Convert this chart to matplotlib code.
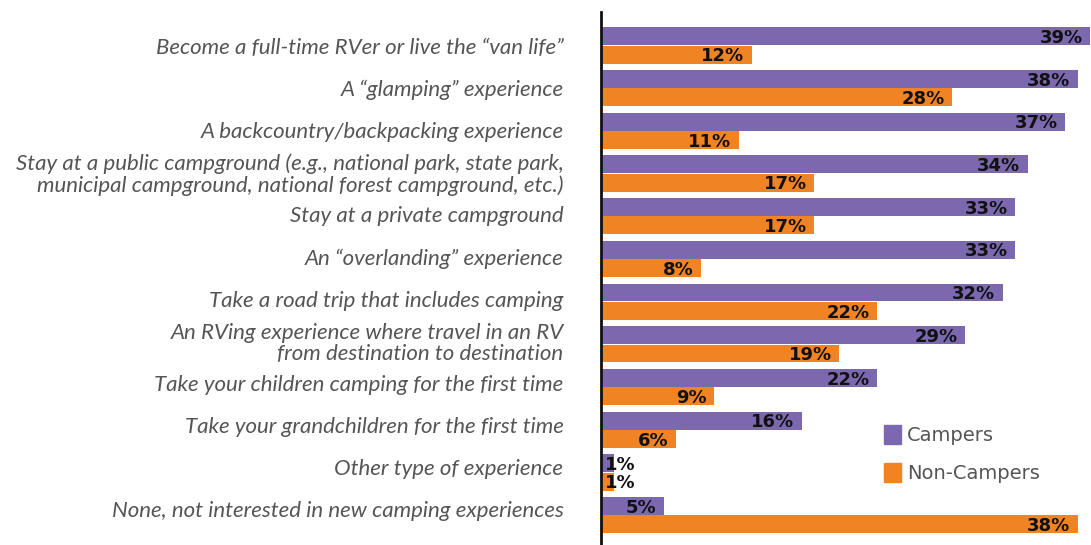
import matplotlib.pyplot as plt
import matplotlib.patches as mpatches
import numpy as np

categories = [
    'Become a full-time RVer or live the \u201cvan life\u201d',
    'A \u201cglamping\u201d experience',
    'A backcountry/backpacking experience',
    'Stay at a public campground (e.g., national park, state park,\nmunicipal campground, national forest campground, etc.)',
    'Stay at a private campground',
    'An \u201coverlanding\u201d experience',
    'Take a road trip that includes camping',
    'An RVing experience where travel in an RV\nfrom destination to destination',
    'Take your children camping for the first time',
    'Take your grandchildren for the first time',
    'Other type of experience',
    'None, not interested in new camping experiences',
]
campers = [39, 38, 37, 34, 33, 33, 32, 29, 22, 16, 1, 5]
non_campers = [12, 28, 11, 17, 17, 8, 22, 19, 9, 6, 1, 38]
series_names = ['Campers', 'Non-Campers']

purple = '#7B68AE'
orange = '#F08323'

fig = plt.figure(figsize=(10.91, 5.45), dpi=100)
ax = fig.add_axes([601 / 1091, 0, 1 - 601 / 1091, 1 - 12 / 545])

y = np.arange(len(categories))
h = 0.42
ax.barh(y - h / 2 - 0.005, campers, height=h, color=purple)
ax.barh(y + h / 2 + 0.005, non_campers, height=h, color=orange)

ax.set_xlim(0, 39.05)
ax.set_ylim(11.70, -0.785)

for spine in ['top', 'right', 'bottom']:
    ax.spines[spine].set_visible(False)
ax.spines['left'].set_linewidth(2)
ax.spines['left'].set_color('#111111')
ax.set_xticks([])
# labels sit a touch above the group centres further down
ax.set_yticks(y - 0.012 * y)
ax.set_yticklabels(categories, fontsize=16, style='italic', color='#555555',
                   family='Lato', linespacing=1.1)
ax.tick_params(axis='y', length=0, pad=27)

# value labels
for vals, off in [(campers, -h / 2 - 0.005), (non_campers, h / 2 + 0.005)]:
    for i, v in enumerate(vals):
        if v < 3:
            ax.text(0.35, i + off + 0.04, f'{v}%', ha='left', va='center',
                    fontsize=13, fontweight='bold', color='#111111')
        else:
            ax.text(v - 0.6, i + off + 0.04, f'{v}%', ha='right', va='center',
                    fontsize=13, fontweight='bold', color='#111111')

handles = [mpatches.Patch(color=purple, label=series_names[0]),
           mpatches.Patch(color=orange, label=series_names[1])]
leg = fig.legend(handles=handles, loc='upper left', bbox_to_anchor=(866 / 1091, 1 - 407 / 545),
                 frameon=False, fontsize=14, handlelength=0.9, handleheight=1.2,
                 handletextpad=0.3, labelspacing=0.9)
for t in leg.get_texts():
    t.set_color('#555555')

fig.savefig('out.png', dpi=100)
